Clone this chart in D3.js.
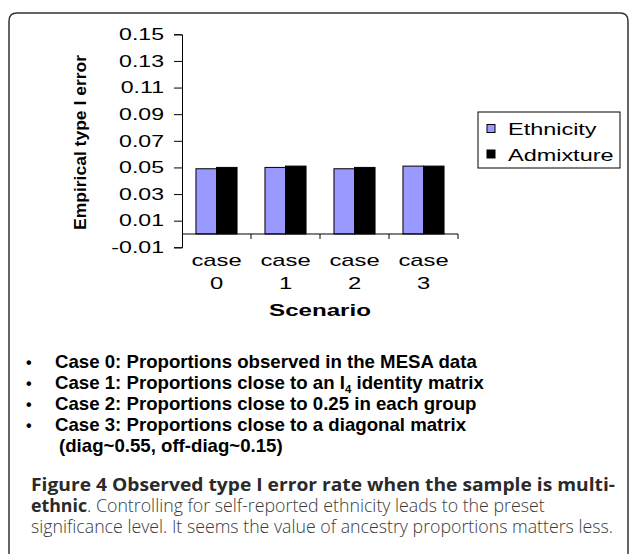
<!DOCTYPE html>
<html>
<head>
<meta charset="utf-8">
<script src="https://cdn.jsdelivr.net/npm/d3@7"></script>
<style>
  html, body { margin: 0; padding: 0; background: #fff; }
  svg { display: block; }
</style>
</head>
<body>
<svg id="chart" width="629" height="554"></svg>
<script>
const categories = ["case 0", "case 1", "case 2", "case 3"];
const seriesNames = ["Ethnicity", "Admixture"];
const ethnicity = [0.049, 0.050, 0.049, 0.051];
const admixture = [0.050, 0.051, 0.050, 0.051];
const yTicks = [-0.01, 0.01, 0.03, 0.05, 0.07, 0.09, 0.11, 0.13, 0.15];
const colors = ["#9999FF", "#000000"];
const bullets = [
  ["Case 0: Proportions observed in the MESA data"],
  ["Case 1: Proportions close to an I", "4", " identity matrix"],
  ["Case 2: Proportions close to 0.25 in each group"],
  ["Case 3: Proportions close to a diagonal matrix"]
];
const bulletCont = "(diag~0.55, off-diag~0.15)";
const captionBold = "Figure 4 Observed type I error rate when the sample is multi-";
const captionBold2 = "ethnic";
const captionRest2 = ". Controlling for self-reported ethnicity leads to the preset";
const captionRest3 = "significance level. It seems the value of ancestry proportions matters less.";

const svg = d3.select("#chart");
const ARIAL = "Liberation Sans, Arial, sans-serif";

// frame
svg.append("path")
  .attr("d", "M9,570 V21 Q9,13 17,13 H620 Q628,13 628,21 V570")
  .attr("fill", "none").attr("stroke", "#333").attr("stroke-width", 1.5);

const pLeft = 182, pRight = 458, pTop = 34.3, pBottom = 247.3;
const y = d3.scaleLinear().domain([-0.01, 0.15]).range([pBottom, pTop]);
const x0 = d3.scaleBand().domain(categories).range([pLeft, pRight]).padding(0);
const x1 = d3.scaleBand().domain(seriesNames).range([0, x0.bandwidth()]).paddingInner(0).paddingOuter(0.68);

// y axis
const SXT = 1.4;
const yAxis = svg.append("g").attr("transform", `translate(${pLeft},0)`)
  .call(d3.axisLeft(y).tickValues(yTicks).tickSize(8).tickPadding(10)
    .tickFormat(d => d3.format(".2f")(d).replace("\u2212", "-")));
yAxis.select(".domain").attr("stroke", "#000");
yAxis.selectAll(".tick line").attr("stroke", "#000");
yAxis.selectAll(".tick text")
  .attr("font-family", ARIAL)
  .attr("font-size", 16.5).attr("fill", "#000")
  .each(function() {
    const t = d3.select(this);
    const xx = +t.attr("x");
    t.attr("x", xx / SXT).attr("transform", `scale(${SXT},1)`);
  });

// bars
const data = categories.map((c, i) => ({ c, vals: [ethnicity[i], admixture[i]] }));
svg.append("g").selectAll("g.cat").data(data).join("g")
  .attr("transform", d => `translate(${x0(d.c)},0)`)
  .selectAll("rect").data(d => d.vals.map((v, j) => ({ v, s: seriesNames[j], j })))
  .join("rect")
  .attr("x", d => x1(d.s))
  .attr("width", x1.bandwidth())
  .attr("y", d => y(d.v))
  .attr("height", d => y(0) - y(d.v))
  .attr("fill", d => colors[d.j])
  .attr("stroke", "#000").attr("stroke-width", 1);

// x axis at zero
const xAxis = svg.append("g").attr("transform", `translate(0,${y(0)})`);
xAxis.append("line").attr("x1", pLeft).attr("x2", pRight).attr("stroke", "#000");
xAxis.selectAll("line.tk").data(categories).join("line")
  .attr("x1", d => x0(d) + x0.bandwidth()).attr("x2", d => x0(d) + x0.bandwidth())
  .attr("y1", 0).attr("y2", 5).attr("stroke", "#000");

// x labels
const xl = svg.append("g").attr("font-family", ARIAL)
  .attr("font-size", 17).attr("text-anchor", "middle").attr("fill", "#000");
categories.forEach(c => {
  const [w, n] = c.split(" ");
  const cx = x0(c) + x0.bandwidth() / 2;
  xl.append("text").attr("transform", `translate(${cx},266) scale(${SXT},1)`).text(w);
  xl.append("text").attr("transform", `translate(${cx},289) scale(${SXT},1)`).text(n);
});

// axis titles
svg.append("text").attr("transform", `translate(320,316) scale(1.42,1)`)
  .attr("text-anchor", "middle").attr("font-family", ARIAL)
  .attr("font-weight", "bold").attr("font-size", 17).text("Scenario");
svg.append("text").attr("transform", `translate(86,142.5) rotate(-90) scale(1.06,1)`)
  .attr("text-anchor", "middle").attr("font-family", ARIAL)
  .attr("font-weight", "bold").attr("font-size", 16.5).text("Empirical type I error");

// legend
const lg = svg.append("g");
lg.append("rect").attr("x", 478).attr("y", 112).attr("width", 142).attr("height", 56)
  .attr("fill", "#fff").attr("stroke", "#000").attr("stroke-width", 1);
seriesNames.forEach((s, i) => {
  const yy = 128.5 + i * 25.5;
  lg.append("rect").attr("x", 487).attr("y", yy - 4).attr("width", 8).attr("height", 8)
    .attr("fill", colors[i]).attr("stroke", "#000");
  lg.append("text").attr("transform", `translate(508,${yy + 6.5}) scale(1.38,1)`)
    .attr("font-family", ARIAL).attr("font-size", 17).text(s);
});

// bullets
const bl = svg.append("g").attr("font-family", ARIAL)
  .attr("font-weight", "bold").attr("font-size", 18).attr("fill", "#000");
const BS = 1.036, B0 = 368, BSTEP = 21;
bullets.forEach((b, i) => {
  const yy = B0 + i * BSTEP;
  bl.append("text").attr("x", 26).attr("y", yy).attr("font-size", 16).text("•");
  const t = bl.append("text").attr("transform", `translate(55,${yy}) scale(${BS},1)`);
  t.append("tspan").text(b[0]);
  if (b.length > 1) {
    t.append("tspan").attr("dy", 4).attr("font-size", 11).text(b[1]);
    t.append("tspan").attr("dy", -4).text(b[2]);
  }
});
bl.append("text").attr("transform", `translate(59,${B0 + 4 * BSTEP}) scale(${BS},1)`).text(bulletCont);

// caption
const cap = svg.append("g").attr("font-family", "Open Sans, sans-serif").attr("font-size", 17.5);
cap.append("text").attr("x", 31).attr("y", 491).attr("font-weight", "bold").attr("fill", "#2a2a2a")
  .attr("textLength", 584).attr("lengthAdjust", "spacingAndGlyphs")
  .text(captionBold);
const c2 = cap.append("text").attr("x", 0).attr("y", 0);
c2.append("tspan").attr("font-weight", "bold").attr("fill", "#2a2a2a").text(captionBold2);
c2.append("tspan").attr("font-weight", 300).attr("fill", "#3a3a3a").text(captionRest2);
const w2 = c2.node().getBBox().width;
c2.attr("transform", `translate(31,512) scale(${514 / w2},1)`);
cap.append("text").attr("x", 31).attr("y", 533).attr("font-weight", 300).attr("fill", "#3a3a3a")
  .attr("textLength", 582).attr("lengthAdjust", "spacingAndGlyphs")
  .text(captionRest3);
</script>
</body>
</html>
